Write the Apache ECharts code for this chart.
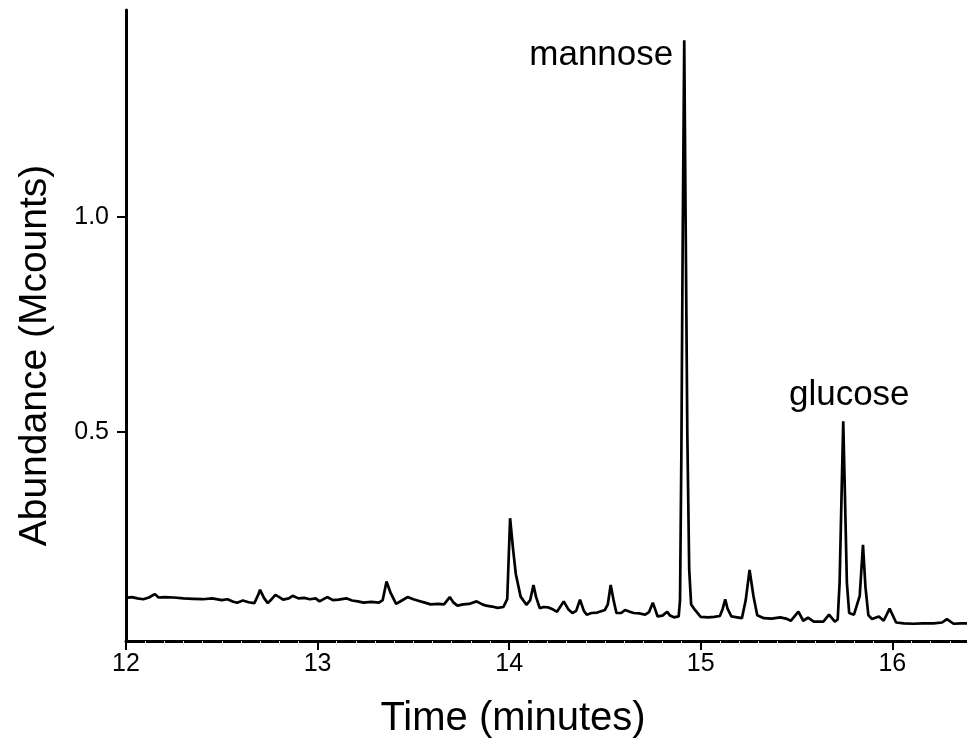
<!DOCTYPE html>
<html>
<head>
<meta charset="utf-8">
<script src="https://cdn.jsdelivr.net/npm/echarts@6/dist/echarts.min.js"></script>
<style>html,body{margin:0;padding:0;background:#fff}#chart{width:967px;height:750px}</style>
</head>
<body>
<div id="chart"></div>
<script>
// Retention time (minutes)
const timeMin = [12.00,12.03,12.06,12.09,12.12,12.15,12.17,12.20,12.25,12.30,12.35,12.40,12.45,12.50,12.53,12.56,12.58,12.61,12.64,12.67,12.69,12.70,12.72,12.74,12.76,12.78,12.80,12.82,12.85,12.87,12.90,12.93,12.96,12.99,13.01,13.05,13.08,13.11,13.15,13.18,13.21,13.24,13.28,13.32,13.34,13.36,13.38,13.41,13.44,13.47,13.50,13.53,13.56,13.59,13.63,13.66,13.69,13.71,13.73,13.76,13.79,13.83,13.86,13.88,13.91,13.94,13.97,13.99,14.005,14.02,14.035,14.06,14.09,14.11,14.127,14.14,14.16,14.18,14.205,14.23,14.25,14.285,14.31,14.33,14.35,14.37,14.39,14.405,14.43,14.46,14.50,14.515,14.53,14.545,14.56,14.585,14.605,14.63,14.65,14.68,14.71,14.73,14.75,14.765,14.775,14.80,14.825,14.84,14.86,14.885,14.892,14.899,14.906,14.914,14.922,14.930,14.94,14.95,14.97,15.00,15.04,15.07,15.10,15.115,15.128,15.14,15.16,15.19,15.215,15.235,15.255,15.275,15.295,15.33,15.37,15.415,15.445,15.47,15.51,15.535,15.56,15.59,15.64,15.67,15.70,15.715,15.725,15.735,15.744,15.753,15.763,15.775,15.80,15.81,15.83,15.847,15.86,15.875,15.894,15.93,15.955,15.986,16.02,16.06,16.11,16.16,16.215,16.26,16.285,16.32,16.36,16.39];
// Abundance (Mcounts)
const abundance = [0.115,0.117,0.114,0.112,0.116,0.124,0.116,0.117,0.116,0.114,0.113,0.112,0.114,0.110,0.112,0.106,0.104,0.109,0.105,0.103,0.122,0.134,0.115,0.103,0.112,0.122,0.117,0.111,0.114,0.120,0.114,0.115,0.112,0.114,0.107,0.117,0.110,0.111,0.114,0.109,0.107,0.104,0.106,0.104,0.110,0.153,0.128,0.101,0.109,0.117,0.112,0.108,0.104,0.100,0.101,0.100,0.117,0.104,0.097,0.100,0.101,0.107,0.100,0.097,0.095,0.092,0.094,0.112,0.300,0.230,0.170,0.118,0.099,0.110,0.145,0.118,0.091,0.094,0.093,0.088,0.083,0.107,0.088,0.080,0.085,0.111,0.085,0.076,0.080,0.081,0.087,0.100,0.145,0.110,0.080,0.080,0.087,0.083,0.080,0.079,0.076,0.082,0.104,0.085,0.072,0.074,0.083,0.074,0.070,0.072,0.110,0.450,0.950,1.410,0.950,0.500,0.180,0.100,0.087,0.071,0.070,0.071,0.073,0.090,0.112,0.090,0.072,0.070,0.068,0.110,0.180,0.120,0.075,0.068,0.067,0.070,0.067,0.062,0.083,0.062,0.069,0.060,0.060,0.076,0.060,0.065,0.150,0.350,0.525,0.350,0.150,0.080,0.076,0.074,0.120,0.238,0.140,0.075,0.066,0.072,0.062,0.090,0.058,0.056,0.055,0.056,0.056,0.058,0.066,0.055,0.056,0.056];
// Tick labels
const xTicks = [12, 13, 14, 15, 16];
const yTicks = [0.5, 1.0];
// Peak annotations
const peakNames = ['mannose', 'glucose'];
const peakTimes = [14.914, 15.744];
const peakValues = [1.41, 0.525];

const xMin = 12, xMax = 16.39, yMin = 0.015, yMax = 1.48;
const minorTicks = [];
for (let i = 0; i <= Math.round((xMax - xMin) * 10); i++) {
  const v = +(xMin + i * 0.1).toFixed(2);
  if (Math.abs(v - Math.round(v)) > 1e-6) minorTicks.push(v);
}

const font = '"Liberation Sans", Arial, Helvetica, sans-serif';
const chart = echarts.init(document.getElementById('chart'), null, {renderer: 'canvas'});
const labelOffsets = [[-11, 15], [6, -26]];
const labelAlign = ['right', 'center'];

chart.setOption({
  animation: false,
  backgroundColor: '#fff',
  grid: {left: 126, right: 0, top: 10, bottom: 109, containLabel: false},
  xAxis: [{
    type: 'value', min: xMin, max: xMax,
    name: 'Time (minutes)', nameLocation: 'middle', nameGap: 58,
    nameTextStyle: {fontFamily: font, fontSize: 40, color: '#000', padding: [0, 67, 0, 0]},
    axisLine: {show: true, onZero: false, lineStyle: {color: '#000', width: 3}},
    axisTick: {show: true, customValues: xTicks, length: 9, lineStyle: {color: '#000', width: 2}},
    axisLabel: {customValues: xTicks, fontFamily: font, fontSize: 25, color: '#000', margin: 11, formatter: v => String(v)},
    splitLine: {show: false}
  }, {
    type: 'value', min: xMin, max: xMax, position: 'bottom',
    axisLine: {show: false},
    axisTick: {show: true, customValues: minorTicks, length: 5, lineStyle: {color: '#e4e4e4', width: 1}},
    axisLabel: {show: false},
    splitLine: {show: false}
  }],
  yAxis: {
    type: 'value', min: yMin, max: yMax,
    name: 'Abundance (Mcounts)', nameLocation: 'middle', nameGap: 71,
    nameTextStyle: {fontFamily: font, fontSize: 39, color: '#000', padding: [0, 60, 0, 0]},
    axisLine: {show: true, onZero: false, lineStyle: {color: '#000', width: 3}},
    axisTick: {show: true, customValues: yTicks, length: 9, lineStyle: {color: '#000', width: 2}},
    axisLabel: {customValues: yTicks, fontFamily: font, fontSize: 25, color: '#000', margin: 17, formatter: v => v.toFixed(1)},
    splitLine: {show: false}
  },
  series: [{
    type: 'line',
    data: timeMin.map((t, i) => [t, abundance[i]]),
    showSymbol: false,
    smooth: false,
    lineStyle: {color: '#000', width: 2.7},
    clip: true,
    markPoint: {
      symbol: 'circle', symbolSize: 0,
      data: peakNames.map((n, i) => ({
        name: n, coord: [peakTimes[i], peakValues[i]],
        label: {show: true, formatter: n, position: 'inside', offset: labelOffsets[i], align: labelAlign[i], verticalAlign: 'middle',
          fontFamily: font, fontSize: 35, color: '#000'}
      }))
    }
  }]
});
</script>
</body>
</html>
